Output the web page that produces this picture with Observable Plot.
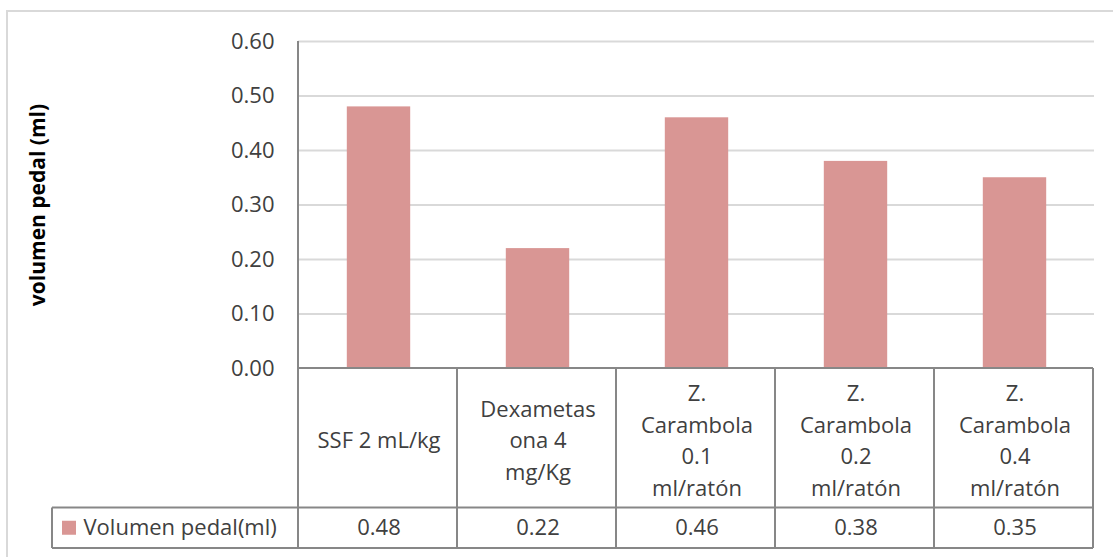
<!DOCTYPE html>
<html>
<head>
<meta charset="utf-8">
<script src="https://cdn.jsdelivr.net/npm/d3@7"></script>
<script src="https://cdn.jsdelivr.net/npm/@observablehq/plot@0.6"></script>
<style>
  html, body { margin: 0; padding: 0; background: #fff; }
  #chart { width: 1113px; height: 557px; overflow: hidden; }
</style>
</head>
<body>
<div id="chart"></div>
<script>
// ---- data ----
const categories = ["SSF 2 mL/kg", "Dexametasona 4 mg/Kg", "Z. Carambola 0.1 ml/ratón", "Z. Carambola 0.2 ml/ratón", "Z. Carambola 0.4 ml/ratón"];
const categoryLabels = ["SSF 2 mL/kg", "Dexametas\nona 4\nmg/Kg", "Z.\nCarambola\n0.1\nml/ratón", "Z.\nCarambola\n0.2\nml/ratón", "Z.\nCarambola\n0.4\nml/ratón"];
const values = [0.48, 0.22, 0.46, 0.38, 0.35];
const yTicks = [0, 0.1, 0.2, 0.3, 0.4, 0.5, 0.6];
const seriesName = "Volumen pedal(ml)";
const yTitle = "volumen pedal (ml)";

const data = categories.map((c, i) => ({cat: c, label: categoryLabels[i], value: values[i]}));

// ---- layout / style ----
const W = 1113, H = 557;
const mLeft = 298, mRight = 19, mTop = 41, mBottom = 189;
const headerH = 139.5, valueRowH = 40.5, legendLeft = 52;
const barColor = "#d99694";
const textColor = "#404040";
const gridColor = "#d9d9d9";
const tableColor = "#878787";
const font = "'Open Sans', sans-serif";

const plot = Plot.plot({
  width: W, height: H,
  marginLeft: mLeft, marginRight: mRight, marginTop: mTop, marginBottom: mBottom,
  style: {fontFamily: font, fontSize: "22px", color: textColor, background: "#fff"},
  x: {domain: categories, padding: 0, axis: null},
  y: {domain: [0, 0.6], ticks: yTicks, tickFormat: d3.format(".2f"), tickSize: 0, tickPadding: 24, label: null},
  marks: [
    Plot.ruleY(yTicks.filter(d => d > 0), {stroke: gridColor, strokeWidth: 2}),
    Plot.barY(data, {x: "cat", y: "value", fill: barColor, insetLeft: 47.8, insetRight: 47.8}),
    Plot.text(data, {x: "cat", text: "label", frameAnchor: "bottom", lineAnchor: "middle", dy: headerH / 2, lineHeight: 1.43, fill: textColor, fontSize: 22}),
    Plot.text(data, {x: "cat", text: d => d3.format(".2f")(d.value), frameAnchor: "bottom", lineAnchor: "middle", dy: headerH + valueRowH / 2, fill: textColor, fontSize: 22}),
    Plot.text([seriesName], {frameAnchor: "bottom-left", textAnchor: "start", lineAnchor: "middle", dx: 83 - mLeft, dy: headerH + valueRowH / 2, fill: textColor, fontSize: 22}),
    Plot.text([yTitle], {frameAnchor: "left", textAnchor: "middle", lineAnchor: "middle", rotate: -90, dx: 38 - mLeft, fontWeight: "bold", fill: "#000", fontSize: 21})
  ]
});

document.getElementById("chart").appendChild(plot);

// ---- decorations: outer border, table grid, legend key (positions from the x scale) ----
const svg = d3.select(plot);
const xs = plot.scale("x");
const step = xs.step ?? xs.bandwidth;
const x0 = xs.range[0];
const bounds = d3.range(categories.length + 1).map(i => x0 + i * step);
const yBase = H - mBottom;
const yHead = yBase + headerH;
const yEnd = yHead + valueRowH;
const g = svg.append("g").attr("fill", "none");

g.append("rect").attr("x", 7).attr("y", 11).attr("width", W + 20).attr("height", H + 20)
  .attr("stroke", gridColor).attr("stroke-width", 2);

const lines = [];
lines.push([x0, mTop, x0, yEnd]);                        // value axis line + table left
lines.push([x0, yBase, bounds[bounds.length - 1], yBase]); // baseline / table top
lines.push([legendLeft, yHead, bounds[bounds.length - 1], yHead]);
lines.push([legendLeft, yEnd, bounds[bounds.length - 1], yEnd]);
lines.push([legendLeft, yHead, legendLeft, yEnd]);
bounds.slice(1).forEach(b => lines.push([b, yBase, b, yEnd]));
g.selectAll("line.t").data(lines).join("line")
  .attr("x1", d => d[0]).attr("y1", d => d[1]).attr("x2", d => d[2]).attr("y2", d => d[3])
  .attr("stroke", tableColor).attr("stroke-width", 2);

svg.append("rect").attr("x", 62).attr("y", (yHead + yEnd) / 2 - 7).attr("width", 14).attr("height", 14)
  .attr("fill", barColor);
</script>
</body>
</html>
